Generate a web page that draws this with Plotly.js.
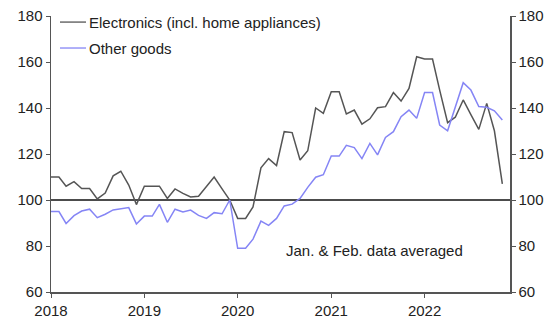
<!DOCTYPE html>
<html>
<head>
<meta charset="utf-8">
<script src="https://cdn.plot.ly/plotly-3.0.1.min.js"></script>
<style>html,body{margin:0;padding:0;background:#fff;}#chart{width:555px;height:322px;}</style>
</head>
<body>
<div id="chart"></div>
<script>
const months = [
 '2018-01-01','2018-02-01','2018-03-01','2018-04-01','2018-05-01','2018-06-01','2018-07-01','2018-08-01','2018-09-01','2018-10-01','2018-11-01','2018-12-01',
 '2019-01-01','2019-02-01','2019-03-01','2019-04-01','2019-05-01','2019-06-01','2019-07-01','2019-08-01','2019-09-01','2019-10-01','2019-11-01','2019-12-01',
 '2020-01-01','2020-02-01','2020-03-01','2020-04-01','2020-05-01','2020-06-01','2020-07-01','2020-08-01','2020-09-01','2020-10-01','2020-11-01','2020-12-01',
 '2021-01-01','2021-02-01','2021-03-01','2021-04-01','2021-05-01','2021-06-01','2021-07-01','2021-08-01','2021-09-01','2021-10-01','2021-11-01','2021-12-01',
 '2022-01-01','2022-02-01','2022-03-01','2022-04-01','2022-05-01','2022-06-01','2022-07-01','2022-08-01','2022-09-01','2022-10-01','2022-11-01'
];
const electronics = [
 110,110,106,108,105,105,100.5,103,110.5,112.5,106.5,98,
 106,106,106,100.7,104.8,102.9,101.3,101.6,105.8,110,104.8,100,
 92,92,97,114,118,115,129.7,129.3,117.4,121.4,140,137.7,
 147.1,147.1,137.4,139.1,133,135.3,140.1,140.6,146.7,143,148.5,162.3,
 161.3,161.3,147.8,133.6,136,143.5,137.1,130.7,142,130.1,107
];
const otherGoods = [
 95,95,89.8,93.2,95.2,96,92.3,93.8,95.7,96.3,96.7,89.6,
 93,93,98.1,90.3,96,94.8,95.6,93.3,92,94.5,94,100,
 79,79,83,90.8,89,92,97.4,98.2,100.7,105.5,109.9,111,
 119.1,119.1,123.8,122.8,118,124.6,119.6,127.2,129.7,136.2,139.1,135.5,
 146.7,146.7,132.6,130.1,140.6,151,147.8,140.6,140.3,138.8,134.8
];
const seriesNames = ['Electronics (incl. home appliances)', 'Other goods'];
const seriesColors = ['#555555', '#8585f5'];
const yTicks = [60, 80, 100, 120, 140, 160, 180];
const xTicks = ['2018-01-01','2019-01-01','2020-01-01','2021-01-01','2022-01-01'];
const xTickLabels = ['2018','2019','2020','2021','2022'];
const baseline = 100;
const note = 'Jan. & Feb. data averaged';

const FONT = '"Liberation Sans", Arial, sans-serif';
const traces = [
 {x: months, y: electronics, type: 'scatter', mode: 'lines', name: seriesNames[0],
  line: {color: seriesColors[0], width: 1.5}, showlegend: false},
 {x: months, y: otherGoods, type: 'scatter', mode: 'lines', name: seriesNames[1],
  line: {color: seriesColors[1], width: 1.5}, showlegend: false},
 // carrier for the right-hand axis (no visible mark)
 {x: months, y: electronics, type: 'scatter', mode: 'lines', yaxis: 'y2',
  line: {color: 'rgba(0,0,0,0)', width: 0}, hoverinfo: 'skip', showlegend: false}
];
const axisY = {
 range: [60, 180], tickvals: yTicks, ticks: 'outside', ticklen: 4, tickcolor: '#555',
 showline: true, linecolor: '#555', linewidth: 1.5, showgrid: false, zeroline: false,
 tickfont: {family: FONT, size: 15, color: '#222'}, fixedrange: true
};
// manual legend (paper coords)
const legX0 = 0.0196, legX1 = 0.0763, legTextX = 0.0784;
const legY = [0.978, 0.884];
const shapes = [{type: 'line', xref: 'paper', x0: 0, x1: 1, yref: 'y', y0: baseline, y1: baseline,
  line: {color: '#111', width: 1.3}, layer: 'below'}];
const annotations = [{xref: 'paper', yref: 'y', x: 0.704, y: 78, text: note, showarrow: false,
  font: {family: FONT, size: 15, color: '#222'}, xanchor: 'center', yanchor: 'middle'}];
seriesNames.forEach((n, i) => {
 shapes.push({type: 'line', xref: 'paper', yref: 'paper', x0: legX0, x1: legX1, y0: legY[i], y1: legY[i],
  line: {color: seriesColors[i], width: 1.3}});
 annotations.push({xref: 'paper', yref: 'paper', x: legTextX, y: legY[i], text: n, showarrow: false,
  xanchor: 'left', yanchor: 'middle', font: {family: FONT, size: 15, color: '#222'}});
});
const layout = {
 width: 555, height: 322,
 margin: {l: 51, r: 45, t: 16, b: 30},
 paper_bgcolor: '#fff', plot_bgcolor: '#fff',
 font: {family: FONT, size: 15, color: '#222'},
 showlegend: false,
 xaxis: {type: 'date', range: ['2018-01-01', '2022-12-01'], tickvals: xTicks, ticktext: xTickLabels,
  ticks: 'outside', ticklen: 4, tickcolor: '#555', showline: true, linecolor: '#555', linewidth: 1.5,
  showgrid: false, zeroline: false, tickfont: {family: FONT, size: 15, color: '#222'}},
 yaxis: Object.assign({side: 'left'}, axisY),
 yaxis2: Object.assign({side: 'right', overlaying: 'y', anchor: 'x'}, axisY),
 shapes: shapes,
 annotations: annotations
};
Plotly.newPlot('chart', traces, layout, {displayModeBar: false, staticPlot: true});
</script>
</body>
</html>
